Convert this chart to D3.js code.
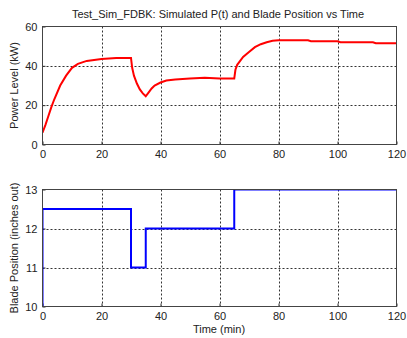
<!DOCTYPE html>
<html>
<head>
<meta charset="utf-8">
<script src="https://cdn.jsdelivr.net/npm/d3@7"></script>
<style>
  body { margin: 0; background: #fff; }
  svg { font-family: "Liberation Sans", Arial, sans-serif; }
</style>
</head>
<body>
<div id="chart"></div>
<script>
// power level (kW) over time (min)
const powerTime = [0, 1, 2, 3, 4, 6, 8, 10, 12, 15, 20, 25, 30, 30.4, 31, 32, 33, 34, 35, 36, 37, 38, 40, 42, 45, 50, 55, 60, 65, 65.4, 66, 67, 68, 70, 72, 74, 76, 78, 80, 90, 91, 100, 101, 112, 113, 120];
const powerValues = [6, 10, 14.5, 19, 23, 30, 35, 39, 41, 42.5, 43.5, 44, 44, 39, 35, 31, 28, 26, 24.5, 26.5, 28.5, 30, 31.5, 32.5, 33, 33.5, 34, 33.5, 33.5, 38, 40.5, 42.5, 44.5, 47, 49.5, 51, 52, 52.8, 53, 53, 52.5, 52.5, 52, 52, 51.5, 51.5];

// blade position (inches out), step changes
const bladeTime = [0, 0, 30, 30, 35, 35, 65, 65, 120];
const bladeValues = [10, 12.5, 12.5, 11, 11, 12, 12, 13, 13];

const xTicks = [0, 20, 40, 60, 80, 100, 120];
const powerTicks = [0, 20, 40, 60];
const bladeTicks = [10, 11, 12, 13];

const width = 407, height = 338;
const left = 42.5, right = 396.5;

const svg = d3.select('#chart').append('svg')
    .attr('width', width)
    .attr('height', height);

const xScale = d3.scaleLinear().domain([0, 120]).range([left, right]);

function drawPanel(id, top, bottom, yDomain, yTicks, tData, vData, color, yLabel) {
    const yScale = d3.scaleLinear().domain(yDomain).range([bottom, top]);

    svg.append('clipPath').attr('id', id)
        .append('rect')
        .attr('x', left).attr('y', top)
        .attr('width', right - left).attr('height', bottom - top);

    // grid
    const grid = svg.append('g').attr('stroke', '#333').attr('stroke-dasharray', '2,2').attr('stroke-width', 1);
    grid.selectAll('.gx').data(xTicks.slice(1, -1)).enter().append('line')
        .attr('x1', d => Math.round(xScale(d)) + 0.5).attr('x2', d => Math.round(xScale(d)) + 0.5)
        .attr('y1', top).attr('y2', bottom);
    grid.selectAll('.gy').data(yTicks.slice(1, -1)).enter().append('line')
        .attr('y1', d => Math.round(yScale(d)) + 0.5).attr('y2', d => Math.round(yScale(d)) + 0.5)
        .attr('x1', left).attr('x2', right);

    // axes (matlab style, ticks inside)
    const xAxis = d3.axisBottom(xScale).tickValues(xTicks).tickFormat(d3.format('d'))
        .tickSizeInner(-3).tickSizeOuter(0).tickPadding(6);
    const xAxisG = svg.append('g').attr('transform', `translate(0,${bottom})`).call(xAxis);
    const yAxis = d3.axisLeft(yScale).tickValues(yTicks).tickFormat(d3.format('d'))
        .tickSizeInner(-3).tickSizeOuter(0).tickPadding(5);
    const yAxisG = svg.append('g').attr('transform', `translate(${left},0)`).call(yAxis);
    [xAxisG, yAxisG].forEach(g => {
        g.select('.domain').remove();
        g.selectAll('text').attr('font-size', 11).attr('fill', '#222')
            .attr('font-family', '"Liberation Sans", Arial, sans-serif');
        g.selectAll('line').attr('stroke', '#333');
    });

    // line
    const line = d3.line()
        .x((d, i) => xScale(tData[i]))
        .y(d => yScale(d));
    svg.append('path')
        .datum(vData)
        .attr('d', line)
        .attr('clip-path', `url(#${id})`)
        .attr('fill', 'none')
        .attr('stroke', color)
        .attr('stroke-width', 2);

    // box
    svg.append('rect')
        .attr('x', left).attr('y', top)
        .attr('width', right - left).attr('height', bottom - top)
        .attr('fill', 'none').attr('stroke', '#444').attr('stroke-width', 1);

    // y label
    svg.append('text')
        .attr('transform', `translate(18,${(top + bottom) / 2}) rotate(-90)`)
        .attr('text-anchor', 'middle')
        .attr('font-size', 11)
        .attr('fill', '#222')
        .text(yLabel);
}

drawPanel('clip-top', 26.5, 144.5, [0, 60], powerTicks, powerTime, powerValues, '#ff0000', 'Power Level (kW)');
drawPanel('clip-bot', 189.5, 306.5, [10, 13], bladeTicks, bladeTime, bladeValues, '#0000ff', 'Blade Position (inches out)');

svg.append('text')
    .attr('x', 218).attr('y', 18)
    .attr('text-anchor', 'middle')
    .attr('font-size', 11)
    .attr('fill', '#222')
    .text('Test_Sim_FDBK: Simulated P(t) and Blade Position vs Time');

svg.append('text')
    .attr('x', 219).attr('y', 333)
    .attr('text-anchor', 'middle')
    .attr('font-size', 11)
    .attr('fill', '#222')
    .text('Time (min)');
</script>
</body>
</html>
